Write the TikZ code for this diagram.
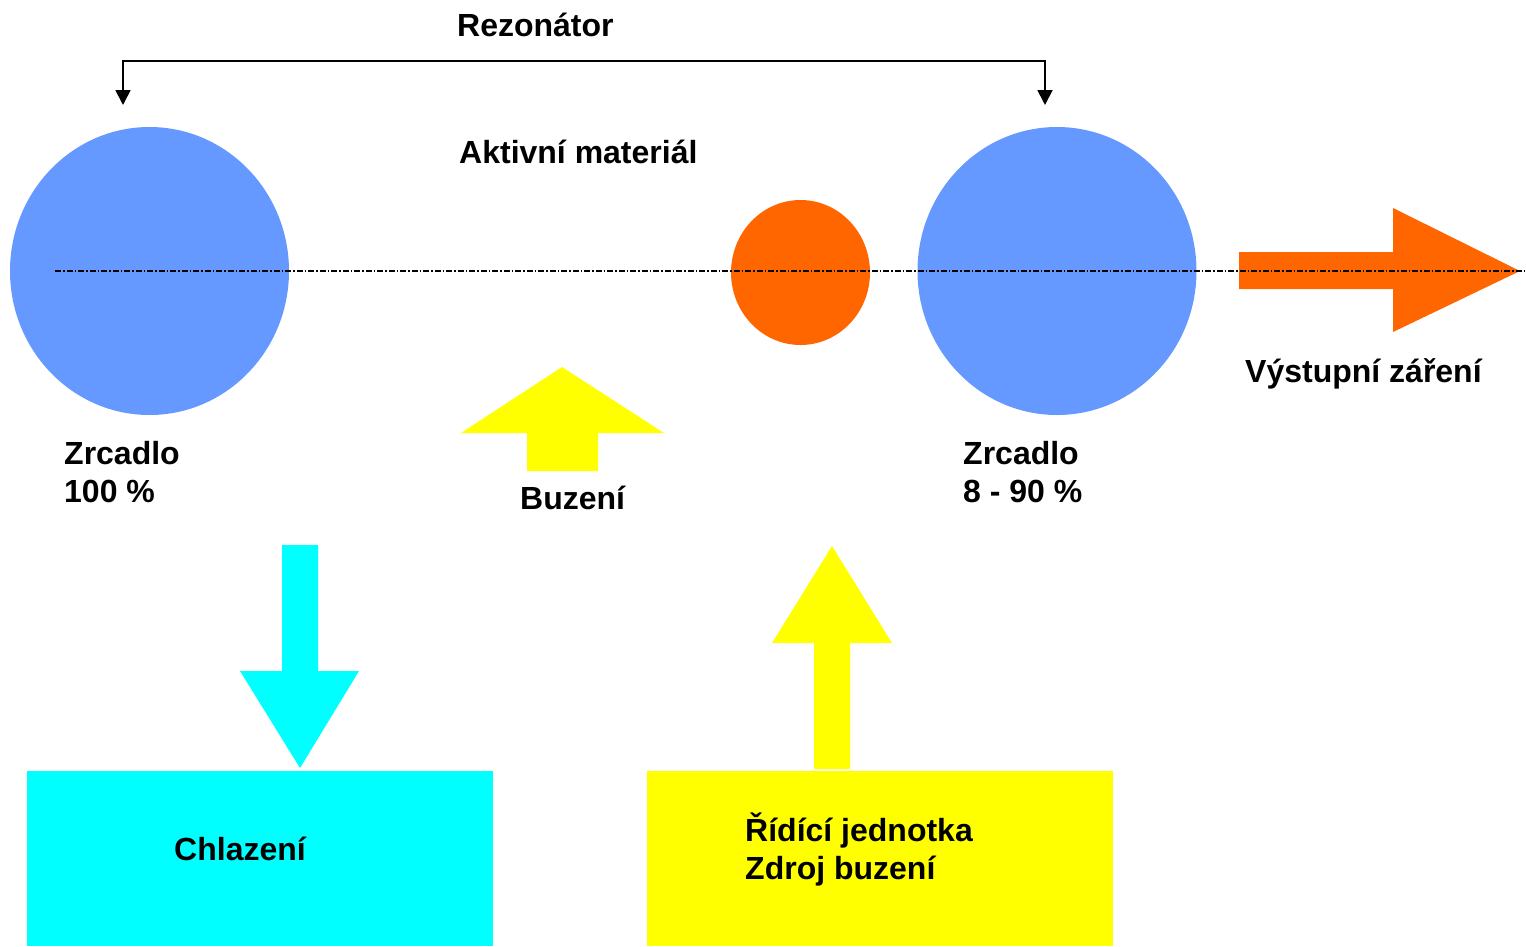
\documentclass[tikz,border=0pt]{standalone}
\usepackage{fontspec}
\setmainfont{Liberation Sans}
\usepackage{xcolor}
\usetikzlibrary{shapes.geometric,arrows.meta}
\definecolor{mirrorblue}{HTML}{6699FF}
\definecolor{laserorange}{HTML}{FF6600}
\definecolor{pumpyellow}{HTML}{FFFF00}
\definecolor{coolcyan}{HTML}{00FFFF}

\begin{document}
\begin{tikzpicture}[x=1pt, y=-1pt,
    lbl/.style={font=\bfseries\fontsize{32}{38}\selectfont, inner sep=0pt, anchor=base west, align=left},
    mirror/.style={ellipse, fill=mirrorblue, inner sep=0pt, minimum width=279pt, minimum height=288pt},
    axis/.style={line width=1.3pt, dash pattern=on 6pt off 2pt on 1.5pt off 2pt},
    bracket/.style={line width=1.8pt, {Triangle[width=15pt,length=15pt]}-{Triangle[width=15pt,length=15pt]}}]
    \useasboundingbox (0,0) rectangle (1526,946);

    % Mirrors and active material
    \node[mirror] (mirL) at (149.5,271) {};
    \node[mirror] (mirR) at (1057,271) {};
    \node[ellipse, fill=laserorange, inner sep=0pt, minimum width=139pt, minimum height=145pt] (act) at (800.5,272.5) {};

    % Output beam
    \fill[laserorange] (1239,252) -- (1393,252) -- (1393,208) -- (1520,271) -- (1393,332) -- (1393,289) -- (1239,289) -- cycle;

    % Optical axis
    \coordinate (axL) at (55,271);
    \coordinate (axR) at (1525,271);
    \draw[axis] (axL) -- (axR);

    % Resonator bracket
    \coordinate (brL) at (123,105);
    \coordinate (brR) at (1045,105);
    \draw[bracket] (brL) -- (123,61) -- (1045,61) -- (brR);

    % Pumping arrows
    \fill[pumpyellow] (562,367) -- (664,433) -- (598,433) -- (598,471) -- (527,471) -- (527,433) -- (461,433) -- cycle;
    \fill[pumpyellow] (832,546) -- (892,643) -- (850,643) -- (850,769) -- (814,769) -- (814,643) -- (772,643) -- cycle;

    % Cooling arrow
    \fill[coolcyan] (282,545) -- (318,545) -- (318,671) -- (359,671) -- (300,768) -- (240,671) -- (282,671) -- cycle;

    % Boxes
    \fill[coolcyan] (27,771) rectangle (493,946);
    \fill[pumpyellow] (647,771) rectangle (1113,946);

    % Labels (multi-line: base is the last line)
    \node[lbl] (rez) at (457,36) {Rezonátor};
    \node[lbl] (aktiv) at (459,163) {Aktivní materiál};
    \node[lbl] (zrL) at (64,502) {Zrcadlo\\100 \%};
    \node[lbl] (zrR) at (963,502) {Zrcadlo\\8 - 90 \%};
    \node[lbl] (buz) at (520,509) {Buzení};
    \node[lbl] (vyst) at (1245,382) {Výstupní záření};
    \node[lbl] (chl) at (174,860) {Chlazení};
    \node[lbl] (rid) at (745,879) {Řídící jednotka\\Zdroj buzení};
\end{tikzpicture}
\end{document}
